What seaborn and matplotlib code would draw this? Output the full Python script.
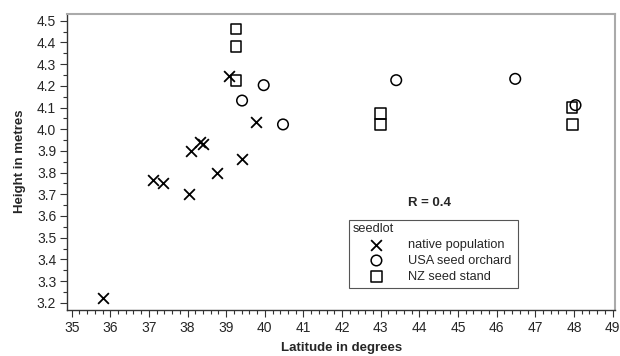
import matplotlib
matplotlib.use("Agg")
import matplotlib.pyplot as plt
import pandas as pd
import seaborn as sns
from matplotlib.patches import Rectangle
from matplotlib.ticker import MultipleLocator, FormatStrFormatter

# values
native_lat = [35.82, 37.11, 37.37, 38.04, 38.08, 38.32, 38.40, 38.75, 39.08, 39.41, 39.76]
native_height = [3.22, 3.766, 3.753, 3.70, 3.90, 3.939, 3.933, 3.796, 4.246, 3.861, 4.033]

usa_lat = [39.41, 39.97, 40.47, 43.40, 46.48, 48.04]
usa_height = [4.132, 4.203, 4.022, 4.226, 4.232, 4.111]

nz_lat = [39.25, 39.25, 39.25, 43.0, 43.0, 47.95, 47.97]
nz_height = [4.462, 4.382, 4.224, 4.072, 4.022, 4.10, 4.022]

groups = ["native population", "USA seed orchard", "NZ seed stand"]
r_text = "R = 0.4"

df = pd.concat([
    pd.DataFrame({"lat": native_lat, "height": native_height, "seedlot": groups[0]}),
    pd.DataFrame({"lat": usa_lat, "height": usa_height, "seedlot": groups[1]}),
    pd.DataFrame({"lat": nz_lat, "height": nz_height, "seedlot": groups[2]}),
])

sns.set_style("ticks")
plt.rcParams["font.family"] = ["Liberation Sans", "DejaVu Sans"]

fig = plt.figure(figsize=(6.2, 3.56), dpi=100)
ax = fig.add_axes([0.1085, 0.1306, 0.8839, 0.8301])

markers = {groups[0]: "x", groups[1]: "o", groups[2]: "s"}
for g in groups:
    sub = df[df["seedlot"] == g]
    if markers[g] == "x":
        sns.scatterplot(data=sub, x="lat", y="height", marker="x", color="black",
                        s=60, linewidth=1.3, label=g, ax=ax)
    else:
        sns.scatterplot(data=sub, x="lat", y="height", marker=markers[g],
                        facecolor="none", edgecolor="black", s=58, linewidth=1.1,
                        label=g, ax=ax)

ax.set_xlim(34.886, 49.07)
ax.set_ylim(3.169, 4.531)
ax.xaxis.set_major_locator(MultipleLocator(1))
ax.xaxis.set_minor_locator(MultipleLocator(0.2))
ax.yaxis.set_major_locator(MultipleLocator(0.1))
ax.yaxis.set_minor_locator(MultipleLocator(0.05))
ax.yaxis.set_major_formatter(FormatStrFormatter("%.1f"))

ax.tick_params(which="major", length=5, width=0.8, color="#333333", labelsize=10, pad=3)
ax.tick_params(which="minor", length=3, width=0.8, color="#333333")
for side in ["left", "bottom"]:
    ax.spines[side].set_color("#333333")
    ax.spines[side].set_linewidth(1.0)
for side in ["top", "right"]:
    ax.spines[side].set_visible(True)
    ax.spines[side].set_color("#aaaaaa")
    ax.spines[side].set_linewidth(1.5)

ax.set_xlabel("Latitude in degrees", fontsize=9.5, fontweight="bold", labelpad=5)
ax.set_ylabel("Height in metres", fontsize=9.5, fontweight="bold", labelpad=8)

ax.text(44.27, 3.66, r_text, fontsize=9.5, fontweight="bold", ha="center", va="center")

# legend box drawn separately so its size matches the original
ax.add_patch(Rectangle((0.514, 0.0728), 0.3085, 0.2302, transform=ax.transAxes,
                       facecolor="white", edgecolor="#555555", linewidth=0.8, zorder=4))
leg = ax.legend(title="seedlot", loc="upper left", bbox_to_anchor=(0.514, 0.303),
                borderaxespad=0, frameon=False, fontsize=9.2,
                title_fontsize=9.2, alignment="left", handletextpad=0.55,
                borderpad=0.25, labelspacing=0.3, handlelength=3.8)
leg.set_zorder(5)

fig.savefig("out.png", dpi=100)
